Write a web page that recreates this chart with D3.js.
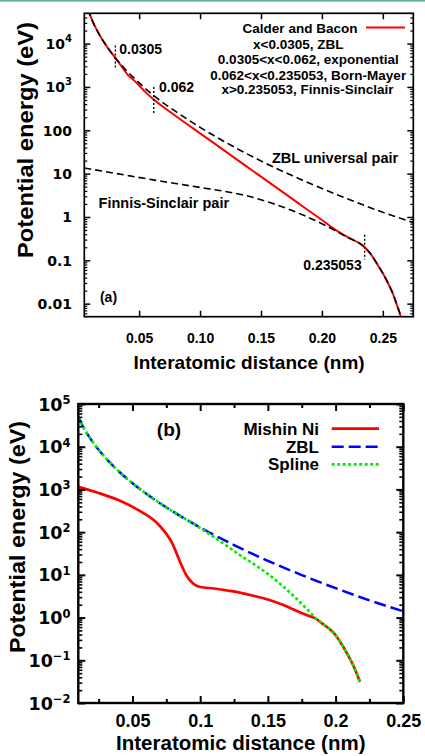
<!DOCTYPE html>
<html><head><meta charset="utf-8">
<script src="https://cdn.jsdelivr.net/npm/d3@7"></script>
<style>body{margin:0;background:#fff}svg{display:block}</style>
</head><body><svg id="c" width="425" height="756"></svg>
<script>
// ---------- DATA: panel (a) ----------
const aXDomain = [0.005, 0.275];
const aYDomain = [0.005, 50000];
const aXTicks = [0.05, 0.10, 0.15, 0.20, 0.25];
const aXTickLabels = ["0.05", "0.10", "0.15", "0.20", "0.25"];
const aYTicks = [1e4, 1e3, 100, 10, 1, 0.1, 0.01];
const aYTickLabels = ["10^4", "10^3", "100", "10", "1", "0.1", "0.01"];

const aZBL_r = [0.008,0.009,0.010,0.0125,0.015,0.020,0.025,0.0305,0.040,0.050,0.062,0.080,0.100,0.125,0.150,0.175,0.200,0.225,0.250,0.275];
const aZBL_E = [62000,51500,43400,29700,21300,12100,7460,4680,2330,1245,630,272,117,45.7,19.6,9.14,4.53,2.36,1.28,0.74];

const aFS_r = [0.005,0.030,0.065,0.100,0.140,0.180,0.200,0.210,0.220,0.235053,0.240,0.245,0.250,0.255,0.259,0.262,0.2645,0.266];
const aFS_E = [13.5,10.2,6.9,4.8,3.0,1.25,0.70,0.50,0.35,0.20,0.14,0.085,0.05,0.027,0.015,0.0085,0.0052,0.003];

const aCB_r = [0.008,0.009,0.010,0.0125,0.015,0.020,0.025,0.0305,0.035,0.040,0.046,0.050,0.055,0.062,0.080,0.100,0.120,0.150,0.180,0.200,0.210,0.220,0.235053,0.240,0.245,0.250,0.255,0.259,0.262,0.2645,0.266];
const aCB_E = [62000,51500,43400,29700,21300,12100,7460,4680,3150,2000,1400,1080,770,510,214,85,34,8.5,2.14,0.85,0.53,0.355,0.20,0.14,0.085,0.05,0.027,0.015,0.0085,0.0052,0.003];

const aMark_r = [0.0305, 0.062, 0.235053];
const aMark_top = [9000, 1000, 0.39];
const aMark_bot = [2700, 250, 0.105];
const aMark_labels = ["0.0305", "0.062", "0.235053"];

const aKeyTitle = "Calder and Bacon";
const aKeyLines = ["x<0.0305, ZBL", "0.0305<x<0.062, exponential", "0.062<x<0.235053, Born-Mayer", "x>0.235053, Finnis-Sinclair"];

// ---------- DATA: panel (b) ----------
const bXDomain = [0.01, 0.25];
const bYDomain = [1e-2, 1e5];
const bXTicks = [0.05, 0.10, 0.15, 0.20, 0.25];
const bXTickLabels = ["0.05", "0.1", "0.15", "0.2", "0.25"];
const bXMinor = [0.025, 0.075, 0.125, 0.175, 0.225];
const bYTicks = [1e5, 1e4, 1e3, 1e2, 1e1, 1e0, 1e-1, 1e-2];
const bYTickLabels = ["10^5", "10^4", "10^3", "10^2", "10^1", "10^0", "10^\u22121", "10^\u22122"];

const bZBL_r = [0.010,0.015,0.020,0.025,0.030,0.040,0.050,0.060,0.070,0.080,0.100,0.125,0.150,0.175,0.200,0.225,0.250];
const bZBL_E = [49800,24300,13760,8460,5520,2630,1400,800,482,302,129,49.9,21.3,9.9,4.87,2.53,1.40];

const bSpline_r = [0.010,0.015,0.020,0.025,0.030,0.040,0.050,0.060,0.070,0.080,0.090,0.100,0.110,0.120,0.130,0.140,0.150,0.160,0.170,0.180,0.186,0.190,0.1983,0.2079,0.2142,0.218];
const bSpline_E = [49800,24300,13760,8460,5520,2630,1400,800,482,302,196,125,77,47,28,17.5,10.5,5.8,3.0,1.45,0.92,0.73,0.45,0.155,0.063,0.031];

const bMishin_r = [0.010,0.025,0.040,0.0544,0.0692,0.0791,0.0865,0.090,0.095,0.100,0.110,0.120,0.130,0.140,0.150,0.160,0.1738,0.180,0.186,0.190,0.1983,0.2079,0.2142,0.218];
const bMishin_E = [1150,828,557,326,151,57,16,9.5,6.2,5.2,4.8,4.3,3.8,3.2,2.65,2.05,1.32,1.1,0.92,0.73,0.45,0.155,0.063,0.031];

const bSeriesNames = ["Mishin Ni", "ZBL", "Spline"];

// ---------- DRAWING ----------
const FONT = '"Liberation Sans", Arial, Helvetica, sans-serif';
const WIDE = '"DejaVu Sans", Verdana, sans-serif';
const svg = d3.select("#c");
const defs = svg.append("defs");

svg.append("rect").attr("x", 0).attr("y", 0).attr("width", 425).attr("height", 1.6).attr("fill", "#5fae8f");

function txt(g, x, y, s, size, anchor, family) {
  return g.append("text").attr("x", x).attr("y", y).attr("dy", "0.35em")
    .attr("text-anchor", anchor || "middle")
    .style("font-family", family || FONT).style("font-size", size + "px")
    .style("font-weight", "bold").style("fill", "#000").text(s);
}
function logMinor(domain) {
  const out = [];
  for (let e = -4; e <= 6; e++) for (let m = 2; m <= 9; m++) {
    const v = m * Math.pow(10, e);
    if (v > domain[0] && v < domain[1]) out.push(v);
  }
  return out;
}
function supify(sel, supSize, rise) {
  sel.each(function() {
    const t = d3.select(this);
    const s = t.text();
    if (s.indexOf("^") < 0) return;
    const [base, ex] = s.split("^");
    t.text(null);
    t.append("tspan").text(base);
    t.append("tspan").attr("dy", -rise).style("font-size", supSize + "px").text(ex);
  });
}
function styleTicks(g, w) {
  g.select(".domain").remove();
  g.selectAll(".tick line").attr("stroke", "#000").attr("stroke-width", w);
}

// ===== Panel (a) =====
const A = {l: 84.3, r: 413.3, t: 13.3, b: 316.7};
const xa = d3.scaleLinear().domain(aXDomain).range([A.l, A.r]);
const ya = d3.scaleLog().domain(aYDomain).range([A.b, A.t]);
defs.append("clipPath").attr("id", "clipA").append("rect")
  .attr("x", A.l).attr("y", A.t).attr("width", A.r - A.l).attr("height", A.b - A.t);
const gA = svg.append("g");
const lineA = d3.line().x(d => xa(d[0])).y(d => ya(d[1])).curve(d3.curveMonotoneX);
const plotA = gA.append("g").attr("clip-path", "url(#clipA)");

plotA.append("path").datum(d3.zip(aCB_r, aCB_E)).attr("d", lineA)
  .attr("fill", "none").attr("stroke", "#ff0000").attr("stroke-width", 2);
plotA.append("path").datum(d3.zip(aZBL_r, aZBL_E)).attr("d", lineA)
  .attr("fill", "none").attr("stroke", "#000").attr("stroke-width", 1.6).attr("stroke-dasharray", "7,4");
plotA.append("path").datum(d3.zip(aFS_r, aFS_E)).attr("d", lineA)
  .attr("fill", "none").attr("stroke", "#000").attr("stroke-width", 1.6).attr("stroke-dasharray", "7,4");
aMark_r.forEach((r, i) => {
  plotA.append("line").attr("x1", xa(r)).attr("x2", xa(r))
    .attr("y1", ya(aMark_top[i])).attr("y2", ya(aMark_bot[i]))
    .attr("stroke", "#000").attr("stroke-width", 1.4).attr("stroke-dasharray", "2,2");
});

// axes (a)
const minorA = logMinor(aYDomain);
gA.append("g").attr("transform", `translate(0,${A.b})`)
  .call(d3.axisBottom(xa).tickValues(aXTicks).tickFormat((d, i) => aXTickLabels[i]).tickSizeInner(-6).tickSizeOuter(0))
  .call(g => { styleTicks(g, 1.5);
    g.selectAll("text").attr("y", 338 - A.b).attr("dy", "0.35em")
      .style("font-family", FONT).style("font-size", "14px").style("font-weight", "bold"); });
gA.append("g").attr("transform", `translate(0,${A.t})`)
  .call(d3.axisTop(xa).tickValues(aXTicks).tickFormat("").tickSizeInner(-6).tickSizeOuter(0))
  .call(g => styleTicks(g, 1.5));
gA.append("g").attr("transform", `translate(${A.l},0)`)
  .call(d3.axisLeft(ya).tickValues(aYTicks).tickFormat((d, i) => aYTickLabels[i]).tickSizeInner(-6).tickSizeOuter(0))
  .call(g => { styleTicks(g, 1.5);
    g.selectAll("text").attr("x", 72 - A.l).attr("dy", "0.35em")
      .style("font-family", WIDE).style("font-size", "14px").style("font-weight", "bold");
    supify(g.selectAll("text"), 10, 7); });
gA.append("g").attr("transform", `translate(${A.l},0)`)
  .call(d3.axisLeft(ya).tickValues(minorA).tickFormat("").tickSizeInner(-3).tickSizeOuter(0))
  .call(g => styleTicks(g, 1.2));
gA.append("g").attr("transform", `translate(${A.r},0)`)
  .call(d3.axisRight(ya).tickValues(aYTicks).tickFormat("").tickSizeInner(-6).tickSizeOuter(0))
  .call(g => styleTicks(g, 1.5));
gA.append("g").attr("transform", `translate(${A.r},0)`)
  .call(d3.axisRight(ya).tickValues(minorA).tickFormat("").tickSizeInner(-3).tickSizeOuter(0))
  .call(g => styleTicks(g, 1.2));
gA.append("rect").attr("x", A.l).attr("y", A.t).attr("width", A.r - A.l).attr("height", A.b - A.t)
  .attr("fill", "none").attr("stroke", "#000").attr("stroke-width", 1.7);

// labels (a)
txt(gA, 119.3, 49.5, aMark_labels[0], 14, "start");
txt(gA, 159, 86.7, aMark_labels[1], 14, "start");
txt(gA, 361.7, 265, aMark_labels[2], 14, "end");
txt(gA, 300, 28.3, aKeyTitle, 13.5, "middle");
gA.append("line").attr("x1", 366).attr("x2", 405).attr("y1", 27.5).attr("y2", 27.5)
  .attr("stroke", "#ff0000").attr("stroke-width", 2);
const aKeyX = [298.3, 308.3, 308.2, 307.5];
const aKeyY = [44.7, 59.3, 75.3, 89.7];
aKeyLines.forEach((s, i) => txt(gA, aKeyX[i], aKeyY[i], s, 13.5, "middle"));
txt(gA, 335, 158.3, "ZBL universal pair", 14.5, "middle");
txt(gA, 163.8, 202.5, "Finnis-Sinclair pair", 14.5, "middle");
txt(gA, 108.5, 296.7, "(a)", 14, "middle");
txt(gA, 249, 362.5, "Interatomic distance (nm)", 19, "middle");
gA.append("text").attr("transform", "translate(33,258) rotate(-90)").attr("text-anchor", "start")
  .attr("textLength", 236).attr("lengthAdjust", "spacingAndGlyphs")
  .style("font-family", FONT).style("font-size", "21.5px").style("font-weight", "bold")
  .text("Potential energy (eV)");

// ===== Panel (b) =====
const B = {l: 78.3, r: 403.3, t: 404, b: 703};
const xb = d3.scaleLinear().domain(bXDomain).range([B.l, B.r]);
const yb = d3.scaleLog().domain(bYDomain).range([B.b, B.t]);
defs.append("clipPath").attr("id", "clipB").append("rect")
  .attr("x", B.l).attr("y", B.t).attr("width", B.r - B.l).attr("height", B.b - B.t);
const gB = svg.append("g");
const lineB = d3.line().x(d => xb(d[0])).y(d => yb(d[1])).curve(d3.curveMonotoneX);
const plotB = gB.append("g").attr("clip-path", "url(#clipB)");
const bStyles = [
  {color: "#ff0000", dash: null, w: 2.7},
  {color: "#0000ff", dash: "12,5", w: 2.5},
  {color: "#00ee00", dash: "3,2.5", w: 2.7}
];
const bData = [d3.zip(bMishin_r, bMishin_E), d3.zip(bZBL_r, bZBL_E), d3.zip(bSpline_r, bSpline_E)];
bData.forEach((d, i) => {
  plotB.append("path").datum(d).attr("d", lineB).attr("fill", "none")
    .attr("stroke", bStyles[i].color).attr("stroke-width", bStyles[i].w)
    .attr("stroke-dasharray", bStyles[i].dash);
});

const minorB = logMinor(bYDomain);
gB.append("g").attr("transform", `translate(0,${B.b})`)
  .call(d3.axisBottom(xb).tickValues(bXTicks).tickFormat((d, i) => bXTickLabels[i]).tickSizeInner(-7).tickSizeOuter(0))
  .call(g => { styleTicks(g, 2);
    g.selectAll("text").attr("y", 720.3 - B.b).attr("dy", "0.35em")
      .style("font-family", FONT).style("font-size", "18px").style("font-weight", "bold"); });
gB.append("g").attr("transform", `translate(0,${B.b})`)
  .call(d3.axisBottom(xb).tickValues(bXMinor).tickFormat("").tickSizeInner(-4).tickSizeOuter(0))
  .call(g => styleTicks(g, 2));
gB.append("g").attr("transform", `translate(0,${B.t})`)
  .call(d3.axisTop(xb).tickValues(bXTicks).tickFormat("").tickSizeInner(-7).tickSizeOuter(0))
  .call(g => styleTicks(g, 2));
gB.append("g").attr("transform", `translate(0,${B.t})`)
  .call(d3.axisTop(xb).tickValues(bXMinor).tickFormat("").tickSizeInner(-4).tickSizeOuter(0))
  .call(g => styleTicks(g, 2));
gB.append("g").attr("transform", `translate(${B.l},0)`)
  .call(d3.axisLeft(yb).tickValues(bYTicks).tickFormat((d, i) => bYTickLabels[i]).tickSizeInner(-7).tickSizeOuter(0))
  .call(g => { styleTicks(g, 2);
    g.selectAll("text").attr("x", 70.5 - B.l).attr("dy", "0.35em")
      .style("font-family", WIDE).style("font-size", "17.5px").style("font-weight", "bold");
    supify(g.selectAll("text"), 11.5, 6.6); });
gB.append("g").attr("transform", `translate(${B.l},0)`)
  .call(d3.axisLeft(yb).tickValues(minorB).tickFormat("").tickSizeInner(-4).tickSizeOuter(0))
  .call(g => styleTicks(g, 1.6));
gB.append("g").attr("transform", `translate(${B.r},0)`)
  .call(d3.axisRight(yb).tickValues(bYTicks).tickFormat("").tickSizeInner(-7).tickSizeOuter(0))
  .call(g => styleTicks(g, 2));
gB.append("g").attr("transform", `translate(${B.r},0)`)
  .call(d3.axisRight(yb).tickValues(minorB).tickFormat("").tickSizeInner(-4).tickSizeOuter(0))
  .call(g => styleTicks(g, 1.6));
gB.append("rect").attr("x", B.l).attr("y", B.t).attr("width", B.r - B.l).attr("height", B.b - B.t)
  .attr("fill", "none").attr("stroke", "#000").attr("stroke-width", 2.4);

// legend (b)
const bKeyY = [428.7, 446.7, 464.3];
bSeriesNames.forEach((s, i) => {
  txt(gB, 319, bKeyY[i], s, 17, "end");
  gB.append("line").attr("x1", 331.7).attr("x2", 379).attr("y1", bKeyY[i]).attr("y2", bKeyY[i])
    .attr("stroke", bStyles[i].color).attr("stroke-width", bStyles[i].w)
    .attr("stroke-dasharray", bStyles[i].dash);
});
txt(gB, 169, 429, "(b)", 19, "middle");
txt(gB, 240.8, 743.3, "Interatomic distance (nm)", 20.5, "middle");
gB.append("text").attr("transform", "translate(25,653) rotate(-90)").attr("text-anchor", "start")
  .attr("textLength", 232).attr("lengthAdjust", "spacingAndGlyphs")
  .style("font-family", FONT).style("font-size", "22px").style("font-weight", "bold")
  .text("Potential energy (eV)");
</script></body></html>
